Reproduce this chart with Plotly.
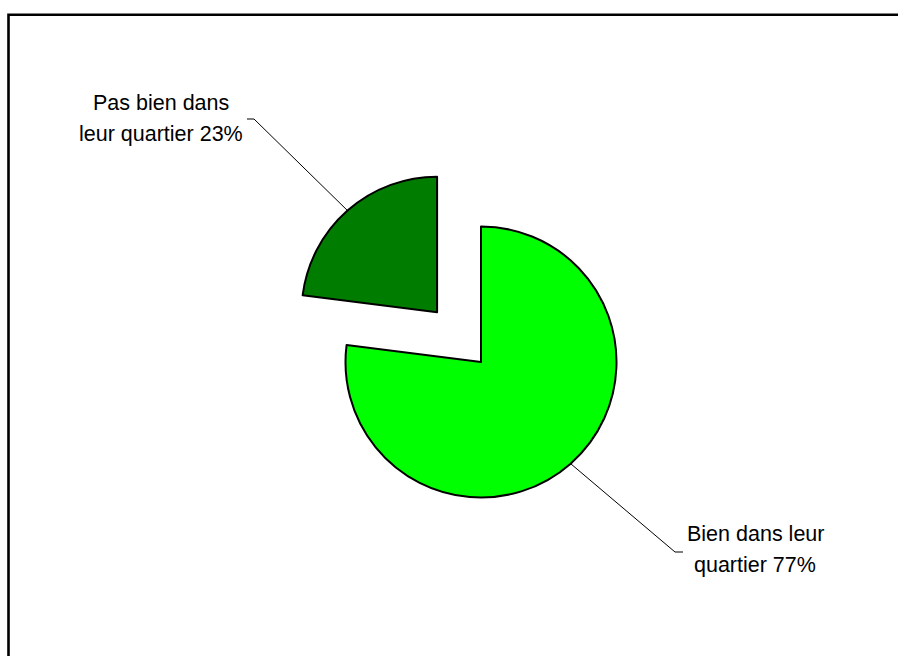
import numpy as np
import plotly.graph_objects as go

# Survey answers: share of residents who feel good / not good in their neighbourhood
labels = ["Bien dans leur quartier", "Pas bien dans leur quartier"]
values = [77, 23]
label_lines = [["Bien dans leur", "quartier {v}%"], ["Pas bien dans", "leur quartier {v}%"]]

colors = ["#00FF00", "#007D00"]
pulls = [0, 0.49]

# Canvas and pie geometry (pixels)
W, H = 898, 656
CX, CY, R = 481, 362, 135.5
box = 2 * R * (1 + max(pulls))
dom_x = [(CX - box / 2) / W, (CX + box / 2) / W]
dom_y = [1 - (CY + box / 2) / H, 1 - (CY - box / 2) / H]

fig = go.Figure(
    go.Pie(
        labels=labels,
        values=values,
        sort=False,
        direction="clockwise",
        rotation=0,
        pull=pulls,
        marker=dict(colors=colors, line=dict(color="#000000", width=2)),
        textinfo="none",
        hoverinfo="label+percent",
        showlegend=False,
        domain=dict(x=dom_x, y=dom_y),
    )
)

# Label placement: centre x, line centres y, leader elbow and end (pixels)
label_pos = [
    dict(x=755, ys=[534, 565], elbow=(675, 552), end=(683, 552)),
    dict(x=161, ys=[102.5, 133.5], elbow=(254, 119), end=(247, 119)),
]

def px(x, y):
    return x / W, 1 - y / H

fracs = np.array(values, dtype=float) / np.sum(values)
starts = np.concatenate([[0], np.cumsum(fracs)[:-1]]) * 2 * np.pi
mids = starts + fracs * np.pi

shapes = []
annotations = []
font = dict(family="Liberation Sans, Arial, sans-serif", size=21.5, color="#000000")
for i, (mid, pull) in enumerate(zip(mids, pulls)):
    ax = CX + (1 + pull) * R * np.sin(mid)
    ay = CY - (1 + pull) * R * np.cos(mid)
    pos = label_pos[i]
    pts = [px(ax, ay), px(*pos["elbow"]), px(*pos["end"])]
    path = "M {} {} L {} {} L {} {}".format(*[c for p in pts for c in p])
    shapes.append(dict(type="path", xref="paper", yref="paper", path=path,
                       line=dict(color="#000000", width=1)))
    for line, yc in zip(label_lines[i], pos["ys"]):
        xp, yp = px(pos["x"], yc)
        annotations.append(dict(text=line.format(v=values[i]), x=xp, y=yp,
                                xref="paper", yref="paper", xanchor="center",
                                yanchor="middle", showarrow=False, font=font))

# Chart area frame (runs past the right and bottom edges of the page)
x0, y1 = px(8.5, 14.8)
shapes.append(dict(type="rect", xref="paper", yref="paper", x0=x0, y0=-0.5,
                   x1=1.5, y1=y1, line=dict(color="#000000", width=2.6),
                   fillcolor="rgba(0,0,0,0)"))

fig.update_layout(
    width=W,
    height=H,
    autosize=False,
    margin=dict(l=0, r=0, t=0, b=0),
    paper_bgcolor="#FFFFFF",
    plot_bgcolor="#FFFFFF",
    shapes=shapes,
    annotations=annotations,
)

fig.write_html("out.html")
